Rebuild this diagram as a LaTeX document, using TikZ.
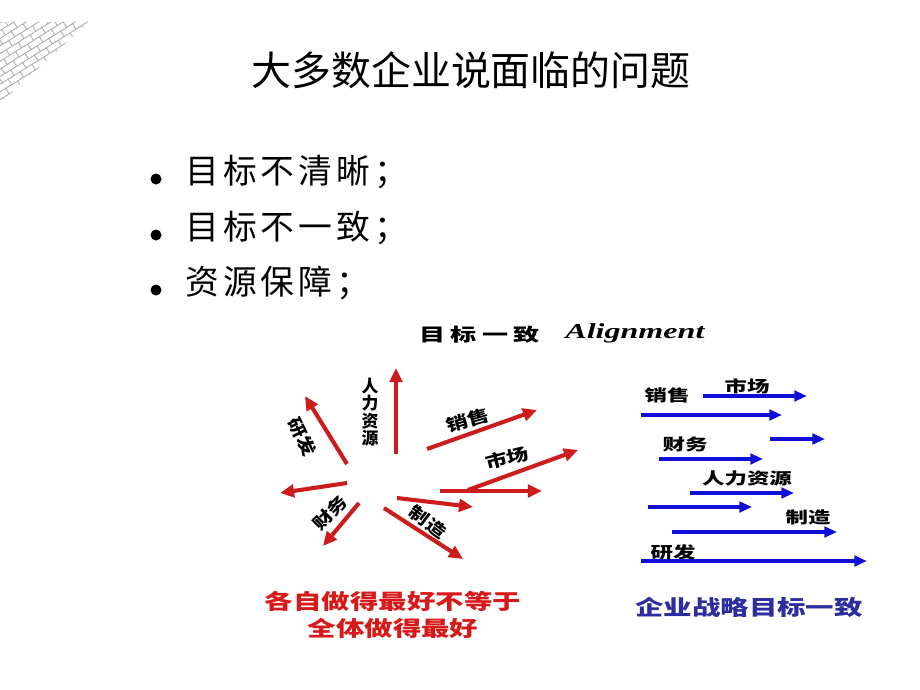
\documentclass[tikz,border=0pt]{standalone}
\usepackage{fontspec}
\newfontfamily\cjk{Noto Sans CJK SC}
\newfontfamily\cjkwide{Noto Sans CJK SC}[LetterSpace=12]
\newfontfamily\cjkhead{Noto Sans CJK SC}[LetterSpace=20]
\newfontfamily\latinhead{Liberation Serif}
\usetikzlibrary{arrows.meta}
\definecolor{arrowred}{RGB}{205,28,28}
\definecolor{textred}{RGB}{215,25,25}
\definecolor{arrowblue}{RGB}{15,15,215}
\definecolor{textblue}{RGB}{45,45,160}
\definecolor{brickgray}{RGB}{170,170,170}
\tikzset{
    redarrow/.style={arrowred, line width=2.9pt, -{Triangle[length=10pt, width=9pt]}},
    bluearrow/.style={arrowblue, line width=2.4pt, -{Triangle[length=9pt, width=7.5pt]}},
    redlabel/.style={font=\cjk\bfseries\fontsize{12pt}{12.5pt}\selectfont, inner sep=0pt},
    bluelabel/.style={font=\cjk\bfseries\fontsize{11.4pt}{12pt}\selectfont, inner sep=0pt, xscale=1.4},
    captiontext/.style={font=\cjk\bfseries\fontsize{15pt}{19pt}\selectfont, inner sep=0pt, xscale=1.35},
    itemtext/.style={font=\cjkwide\fontsize{24pt}{28pt}\selectfont, inner sep=0pt, anchor=west},
}

\begin{document}
\begin{tikzpicture}[x=0.025cm, y=-0.025cm]
	\useasboundingbox (0,0) rectangle (920,690);
	\fill[white] (0,0) rectangle (920,690);
	% brick corner
	\begin{scope}
		\clip (0,22) -- (89,22) -- (0,103) -- cycle;
		\begin{scope}[rotate=32, brickgray, line width=0.6pt]
			\foreach \r [evaluate=\r as \o using {7*mod(\r+40,2)}] in {-20,...,20}{
				\draw (-160,\r*6.5) -- (160,\r*6.5);
				\foreach \c in {-12,...,12}
					\draw (\c*14+\o,\r*6.5) -- ++(0,6.5);
			}
		\end{scope}
	\end{scope}
	% title and items
	\node[font=\cjk\fontsize{28.4pt}{32pt}\selectfont, inner sep=0pt] (title) at (471,70) {大多数企业说面临的问题};
	\foreach \y/\txt [count=\i] in {172/目标不清晰；, 228/目标不一致；, 283/资源保障；}{
		\fill (156,\y+7) circle (5.5);
		\node[itemtext] (item\i) at (185,\y) {\txt};
	}
	% heading of the figure
	\node[font=\cjkhead\bfseries\fontsize{12.8pt}{13pt}\selectfont, inner sep=0pt, xscale=1.45, anchor=west] (aligncn) at (419,335) {目标一致};
	\node[font=\latinhead\bfseries\itshape\fontsize{15.2pt}{16pt}\selectfont, inner sep=0pt, xscale=1.5, anchor=west] (alignen) at (565,333) {Alignment};
	% red star
	\draw[redarrow] (396,454) -- (396,368);
	\draw[redarrow] (347,464) -- (305,396);
	\draw[redarrow] (347,483) -- (280,493);
	\draw[redarrow] (359,503) -- (323,546);
	\draw[redarrow] (384,508) -- (463,559);
	\draw[redarrow] (397,498) -- (473,507);
	\draw[redarrow] (440,491) -- (542,491);
	\draw[redarrow] (468,490) -- (578,450);
	\draw[redarrow] (427,449) -- (537,410);
	\node[redlabel, align=center] (hrred) at (370,412) {人\\力\\资\\源};
	\node[redlabel, rotate=-64, xscale=1.2] (rdred) at (302,437) {研发};
	\node[redlabel, rotate=16, xscale=1.3] (salesred) at (468,420) {销售};
	\node[redlabel, rotate=14, xscale=1.3] (marketred) at (507,458) {市场};
	\node[redlabel, rotate=45, xscale=1.2] (financered) at (330,513) {财务};
	\node[redlabel, rotate=-37, xscale=1.2] (makered) at (428,522) {制造};
	\node[captiontext, textred, align=center] (redcap) at (393,615) {各自做得最好不等于\\全体做得最好};
	% blue lanes
	\draw[bluearrow] (703,396) -- (807,396);
	\draw[bluearrow] (641,415) -- (782,415);
	\draw[bluearrow] (770,439) -- (825,439);
	\draw[bluearrow] (659,459) -- (763,459);
	\draw[bluearrow] (690,493) -- (794,493);
	\draw[bluearrow] (648,507) -- (752,507);
	\draw[bluearrow] (672,532) -- (837,532);
	\draw[bluearrow] (641,561) -- (867,561);
	\node[bluelabel] (salesblue) at (667,395) {销售};
	\node[bluelabel] (marketblue) at (747,386) {市场};
	\node[bluelabel] (financeblue) at (685,444) {财务};
	\node[bluelabel] (hrblue) at (747,478) {人力资源};
	\node[bluelabel] (makeblue) at (808,517) {制造};
	\node[bluelabel] (rdblue) at (673,552) {研发};
	\node[captiontext, textblue] (bluecap) at (749,607) {企业战略目标一致};
\end{tikzpicture}
\end{document}
